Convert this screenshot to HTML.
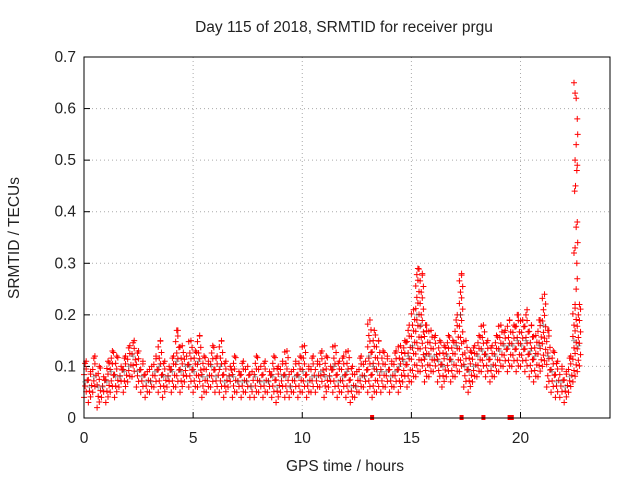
<!DOCTYPE html>
<html><head><meta charset="utf-8"><style>
body{margin:0;background:#fff}
svg text{font-family:"Liberation Sans",sans-serif;font-size:15.5px;fill:#222}
</style></head><body>
<svg id="chart" width="640" height="480" xmlns="http://www.w3.org/2000/svg">
<text x="344" y="32" text-anchor="middle">Day 115 of 2018, SRMTID for receiver prgu</text>
<text x="345" y="471" text-anchor="middle">GPS time / hours</text>
<text transform="translate(19,238) rotate(-90)" text-anchor="middle">SRMTID / TECUs</text>
<g id="grid"></g><g id="ticks"></g><g id="marks"></g>
<rect x="84" y="57" width="526" height="361" fill="none" stroke="#000" stroke-width="1"/>
</svg>
<script>
const xTicks=[0,5,10,15,20];
const yTicks=[0,0.1,0.2,0.3,0.4,0.5,0.6,0.7];
const yTickLabels=["0","0.1","0.2","0.3","0.4","0.5","0.6","0.7"];
const timeStep=0.2;
const yHi=[.11,.09,.12,.10,.08,.11,.13,.12,.10,.12,.14,
.15,.13,.11,.09,.10,.12,.15,.11,.10,.12,
.17,.14,.12,.15,.13,.16,.12,.11,.14,.12,
.15,.11,.10,.12,.09,.11,.10,.09,.12,.10,
.11,.09,.12,.10,.11,.13,.09,.11,.12,.14,
.10,.12,.11,.13,.12,.10,.14,.11,.12,.13,
.10,.09,.12,.11,.19,.17,.15,.13,.12,.11,
.13,.14,.15,.18,.21,.29,.28,.18,.17,.16,
.15,.14,.16,.15,.20,.28,.15,.13,.14,.16,
.18,.15,.14,.16,.18,.17,.19,.18,.20,.19,
.21,.18,.16,.19,.24,.17,.13,.11,.10,.09,
.12,.22,.22];
const yLo=[.04,.03,.05,.02,.04,.03,.05,.04,.06,.05,.07,
.08,.06,.05,.04,.05,.06,.05,.04,.06,.05,
.06,.05,.07,.06,.05,.06,.04,.05,.06,.05,
.05,.04,.06,.04,.05,.04,.05,.04,.04,.05,
.04,.05,.04,.03,.05,.04,.04,.05,.04,.05,
.04,.05,.05,.06,.04,.06,.05,.04,.05,.04,
.03,.04,.05,.06,.05,.04,.05,.05,.06,.05,
.06,.05,.07,.06,.07,.08,.09,.07,.08,.09,
.07,.06,.08,.07,.08,.09,.06,.05,.07,.08,
.09,.08,.07,.08,.09,.10,.09,.10,.09,.10,
.09,.08,.07,.08,.10,.06,.05,.04,.04,.03,
.05,.07,.09];
const yMid=[.07,.06,.08,.06,.06,.07,.09,.08,.08,.09,.10,
.12,.09,.08,.07,.07,.09,.10,.08,.08,.09,
.11,.09,.10,.10,.09,.11,.08,.08,.10,.08,
.10,.07,.08,.08,.07,.07,.07,.06,.08,.07,
.07,.07,.08,.06,.08,.08,.06,.08,.08,.09,
.07,.08,.08,.09,.08,.08,.10,.07,.08,.09,
.06,.06,.08,.08,.12,.10,.09,.09,.09,.08,
.09,.10,.11,.12,.14,.20,.18,.12,.12,.12,
.11,.10,.12,.11,.14,.20,.10,.09,.10,.12,
.13,.12,.10,.12,.13,.14,.14,.14,.15,.14,
.15,.13,.12,.14,.18,.12,.09,.07,.07,.06,
.08,.15,.14];
const spikeT=[22.45,22.5,22.55,22.6,22.62,22.55,22.5,22.6,22.58,22.52,22.48,22.6,22.55,22.62,22.5,22.45,22.58,22.6,22.55,22.5];
const spikeV=[.65,.63,.62,.58,.55,.53,.5,.49,.48,.45,.44,.38,.37,.34,.33,.32,.30,.27,.25,.22];
const zeroMarks=[13.2,17.3,18.3,19.5,19.6];
const NS="http://www.w3.org/2000/svg";
const X=t=>84+t*(526/24.1);
const Y=v=>418-v*(361/0.7);
const grid=document.getElementById('grid'),ticks=document.getElementById('ticks'),marks=document.getElementById('marks');
function mk(tag,attrs,parent){const e=document.createElementNS(NS,tag);for(const k in attrs)e.setAttribute(k,attrs[k]);parent.appendChild(e);return e;}
xTicks.forEach(t=>{
 const g=mk('line',{x1:X(t),x2:X(t),y1:57,y2:418,stroke:'#aaa','stroke-dasharray':'1,3'},grid);
 
 
 mk('line',{x1:X(t),x2:X(t),y1:418,y2:412,stroke:'#000'},ticks);
 const l=mk('text',{x:X(t),y:443,'text-anchor':'middle'},ticks);l.textContent=t;
 
 
});
yTicks.forEach((v,i)=>{
 const g=mk('line',{x1:84,x2:610,y1:Y(v),y2:Y(v),stroke:'#aaa','stroke-dasharray':'1,3'},grid);
 
 
 mk('line',{x1:84,x2:90,y1:Y(v),y2:Y(v),stroke:'#000'},ticks);
 const l=mk('text',{x:76,y:Y(v)+5,'text-anchor':'end'},ticks);l.textContent=yTickLabels[i];
 
 
});
let d='',dk='';
function plus(x,y){return `M${x-3},${y}h6M${x},${y-3}v6`;}
const offs=[0,0.1,0.05,0.15];
yHi.forEach((h,i)=>{
 const t=i*timeStep,lo=yLo[i],m=yMid[i];
 let k=0;
 for(let v=lo;v<=h+1e-9;v+=0.011){d+=plus(X(t+offs[k%4]),Y(v));k++;}
 d+=plus(X(t+0.1),Y(h))+plus(X(t),Y(lo));
 dk+=plus(X(t+0.05),Y(m));
});
spikeT.forEach((t,i)=>{d+=plus(X(t),Y(spikeV[i]));});
const p=mk('path',{d:d,stroke:'#f00','stroke-width':1,fill:'none'},marks);


const p2=mk('path',{d:dk,stroke:'#444','stroke-width':1,fill:'none',opacity:0.5},marks);


zeroMarks.forEach(t=>{
 const r=mk('rect',{x:X(t)-2,y:Y(0)-3,width:4,height:5,fill:'#f00'},marks);
 
 
});
</script>
</body></html>
